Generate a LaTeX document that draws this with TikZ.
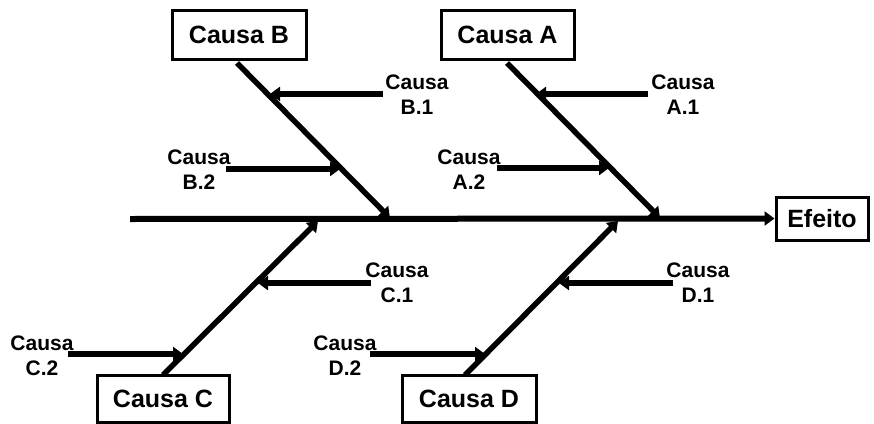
\documentclass[tikz,border=0pt]{standalone}
\usepackage{fontspec}
\setmainfont{Liberation Sans}
\usetikzlibrary{arrows.meta}

\begin{document}
\begin{tikzpicture}[x=1pt,y=-1pt,
  tip/.style={-{Triangle[length=10pt,width=14pt]}},
  spine/.style={line width=6pt},
  bone/.style={line width=5.5pt, tip},
  twig/.style={line width=5.5pt, tip},
  causebox/.style={draw, line width=3pt, inner sep=0pt, font=\fontsize{25}{28}\selectfont\bfseries},
  twiglabel/.style={align=center, inner sep=0pt, font=\fontsize{21}{25}\selectfont\bfseries}
]
\useasboundingbox (0,0) rectangle (874,423);

% main cause boxes and effect
\node[causebox, minimum width=134pt, minimum height=49pt] (cB) at (239,34.5) {Causa B};
\node[causebox, minimum width=133pt, minimum height=49pt] (cA) at (507.5,34.5) {Causa A};
\node[causebox, minimum width=132pt, minimum height=47pt] (cC) at (163,398.5) {Causa C};
\node[causebox, minimum width=134pt, minimum height=47pt] (cD) at (469,398.5) {Causa D};
\node[causebox, minimum width=92pt, minimum height=43pt] (ef) at (822,218.5) {Efeito};

% spine
\coordinate (spL) at (130,219);
\draw[spine, tip] (spL) -- (ef.west);

% bone ends
\coordinate (Bt) at (237,63);   \coordinate (Bh) at (390,218);
\coordinate (At) at (507,63);   \coordinate (Ah) at (660,218);
\coordinate (Ct) at (163,375);  \coordinate (Ch) at (318,221);
\coordinate (Dt) at (465,375);  \coordinate (Dh) at (618,221);

\draw[bone] (Bt) -- (Bh);
\draw[bone] (At) -- (Ah);
\draw[bone] (Ct) -- (Ch);
\draw[bone] (Dt) -- (Dh);

% sub-cause labels
\node[twiglabel] (lB1) at (417,95) {Causa\\B.1};
\node[twiglabel] (lB2) at (199,170) {Causa\\B.2};
\node[twiglabel] (lA1) at (683,95) {Causa\\A.1};
\node[twiglabel] (lA2) at (469,170) {Causa\\A.2};
\node[twiglabel] (lC1) at (397,283) {Causa\\C.1};
\node[twiglabel] (lC2) at (42,356) {Causa\\C.2};
\node[twiglabel] (lD1) at (698,283) {Causa\\D.1};
\node[twiglabel] (lD2) at (345,356) {Causa\\D.2};

% sub-cause arrows: start points and tips on the bones
\coordinate (sB1) at (383,94);  \coordinate (eB1) at (270,94);
\coordinate (sB2) at (226,169); \coordinate (eB2) at (340,169);
\coordinate (sA1) at (648,94);  \coordinate (eA1) at (536,94);
\coordinate (sA2) at (497,168); \coordinate (eA2) at (609,168);
\coordinate (sC1) at (371,283); \coordinate (eC1) at (258,283);
\coordinate (sC2) at (68,354);  \coordinate (eC2) at (183,354);
\coordinate (sD1) at (673,283); \coordinate (eD1) at (559,283);
\coordinate (sD2) at (370,354); \coordinate (eD2) at (485,354);

\foreach \k in {B1,B2,A1,A2,C1,C2,D1,D2}
  \draw[twig] (s\k) -- (e\k);
\end{tikzpicture}
\end{document}
